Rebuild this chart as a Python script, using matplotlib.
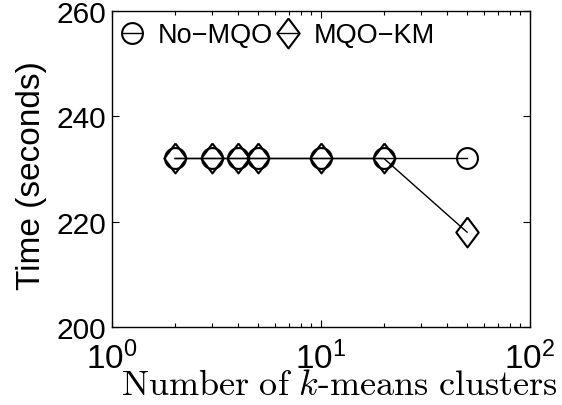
import matplotlib
matplotlib.use("Agg")
import matplotlib.pyplot as plt
from matplotlib.ticker import LogLocator, FixedLocator

# datos: tiempo vs numero de clusters
clusters = [2, 3, 4, 5, 10, 20, 50]
no_mqo = [232, 232, 232, 232, 232, 232, 232]
mqo_km = [232, 232, 232, 232, 232, 232, 218]
y_ticks = [200, 220, 240, 260]

plt.rcParams['font.family'] = ['Liberation Sans', 'DejaVu Sans']
plt.rcParams['mathtext.fontset'] = 'custom'
plt.rcParams['mathtext.rm'] = 'Liberation Sans'
plt.rcParams['mathtext.it'] = 'Liberation Sans:italic'
plt.rcParams['mathtext.default'] = 'regular'

fig = plt.figure(figsize=(5.62, 4.06), dpi=100)
ax = fig.add_axes([0.1993, 0.1921, 0.7438, 0.7783])

# diamante estilo matlab (mas alto que ancho)
diamante = [(0, 1), (0.75, 0), (0, -1), (-0.75, 0), (0, 1)]

ax.plot(clusters, no_mqo, color='black', lw=1.0, marker='o', ms=15,
        mfc='none', mec='black', mew=1.5, label='No\u2212MQO')
ax.plot(clusters, mqo_km, color='black', lw=1.0, marker=diamante, ms=21.5,
        mfc='none', mec='black', mew=1.5, label='MQO\u2212KM')

ax.set_xscale('log')
ax.set_xlim(1, 100)
ax.set_ylim(200, 260)
ax.yaxis.set_major_locator(FixedLocator(y_ticks))
ax.xaxis.set_major_locator(LogLocator(base=10, numticks=5))
ax.xaxis.set_minor_locator(LogLocator(base=10, subs=range(2, 10), numticks=10))

ax.tick_params(which='both', direction='in', top=True, right=True, width=0.8)
ax.tick_params(which='major', length=5)
ax.tick_params(which='minor', length=3)
ax.tick_params(axis='y', labelsize=21.5, pad=4.5)
ax.tick_params(axis='x', labelsize=24, pad=10)
for s in ax.spines.values():
    s.set_linewidth(1.0)

ax.set_ylabel('Time (seconds)', fontsize=24)
ax.yaxis.set_label_coords(-0.156, 0.484)
ax.set_xlabel(r'$\mathrm{Number\ of\ }\mathit{k}\mathrm{\text{-}means\ clusters}$',
              fontsize=26, math_fontfamily='cm', va='baseline')
ax.xaxis.set_label_coords(0.544, -0.212)

ax.legend(loc='upper left', bbox_to_anchor=(0.026, 0.965), ncol=2,
          frameon=False, fontsize=19.5, handlelength=0.7, handletextpad=0.59,
          columnspacing=0.2, borderpad=0, borderaxespad=0)

fig.savefig('out.png', dpi=100)
